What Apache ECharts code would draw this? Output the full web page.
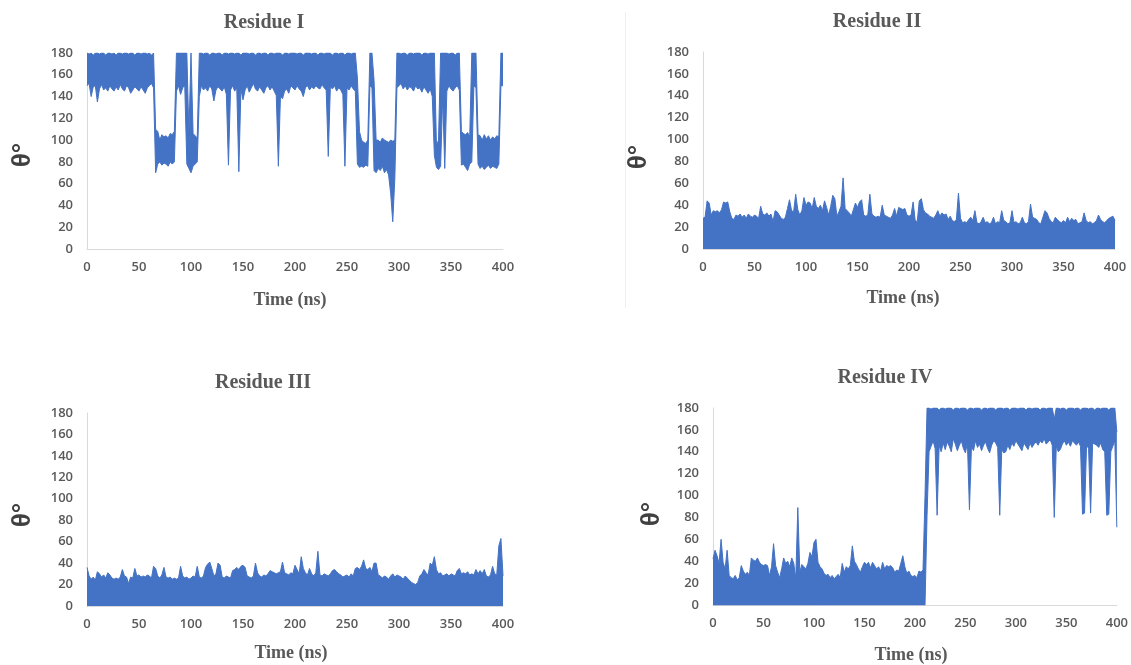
<!DOCTYPE html>
<html>
<head>
<meta charset="utf-8">
<script src="https://cdn.jsdelivr.net/npm/echarts@6.0.0/dist/echarts.min.js"></script>
<style>
html,body{margin:0;padding:0;background:#fff;}
#c{width:1131px;height:665px;}
</style>
</head>
<body>
<div id="c"></div>
<script>
// sample spacing of the traces (ns)
const timeStep = 2;
const xTicks = [0, 50, 100, 150, 200, 250, 300, 350, 400];
const yTicks = [0, 20, 40, 60, 80, 100, 120, 140, 160, 180];
const panelTitles = ['Residue I', 'Residue II', 'Residue III', 'Residue IV'];
const xName = 'Time (ns)';
const yName = 'θ°';

// Residue I : upper / lower envelope of the trace (t = 0..400 ns, every 2 ns)
const hi1 = [
180,179,180,178,180,180,179,180,180,178,
180,180,179,180,178,180,180,179,180,180,
179,180,180,178,180,180,179,180,180,179,
180,178,180,110,108,100,105,103,104,102,
106,105,108,180,180,180,180,180,180,105,
180,106,104,102,180,180,179,180,180,178,
180,180,179,180,180,178,180,180,179,180,
180,179,180,180,178,180,180,180,179,180,
180,178,180,180,179,180,180,178,180,180,
179,180,180,180,178,180,180,179,180,180,
180,179,180,180,178,180,180,180,179,180,
180,178,180,180,179,180,180,180,178,180,
180,179,180,180,178,180,180,179,180,180,
157,108,100,98,97,100,180,180,155,100,
100,98,102,100,99,98,100,99,100,180,
180,179,180,180,178,180,180,179,180,180,
180,178,180,180,179,180,180,180,95,100,
180,180,180,180,179,180,180,178,180,180,
108,106,105,107,103,180,180,180,105,104,
100,105,101,104,100,103,101,104,103,180,
180];
const lo1 = [
150,152,140,149,150,135,147,151,146,148,
145,150,147,145,149,146,151,147,145,150,
148,143,146,149,147,145,149,146,143,148,
150,152,148,70,78,80,77,79,78,76,
80,78,80,145,150,142,148,150,78,74,
70,76,78,80,140,150,146,148,145,150,
147,136,146,149,147,145,149,142,77,146,
150,145,148,71,147,137,146,150,144,148,
152,147,145,149,146,143,148,150,146,149,
145,141,76,140,138,145,147,143,150,148,
146,150,147,145,140,148,150,146,149,147,
150,148,147,151,148,146,85,149,147,150,
145,148,146,142,76,148,146,150,147,145,
78,75,76,75,77,76,150,148,72,70,
74,72,76,70,73,68,51,25,65,148,
150,152,147,150,146,149,148,145,150,147,
148,144,149,146,143,147,140,86,75,73,
76,140,74,145,150,147,145,148,150,146,
77,78,75,72,78,80,150,148,78,74,
76,73,75,77,74,76,75,74,78,150,
150];

// Residue II : upper envelope (trace fills down to ~0)
const hi2 = [
28,29,44,42,31,35,34,35,33,36,
43,42,43,34,28,27,31,30,32,29,
31,28,32,30,29,31,30,28,39,32,
31,33,30,32,25,35,34,31,28,27,
29,37,45,35,34,50,36,31,35,47,
40,43,42,37,47,39,37,40,35,44,
38,31,39,49,46,30,34,39,65,37,
35,33,30,36,42,38,43,45,31,30,
31,50,32,30,29,30,29,40,31,30,
29,28,31,37,30,38,37,36,37,31,
30,31,43,26,25,44,46,36,33,32,
30,29,28,31,35,30,33,31,32,27,
30,26,25,27,51,28,24,25,24,27,
29,26,35,24,23,25,29,24,25,23,
24,29,23,25,24,35,26,25,23,24,
35,24,25,23,24,29,24,23,25,41,
29,28,27,24,23,29,35,33,28,25,
24,29,27,25,24,26,24,29,25,28,
26,27,23,24,25,33,26,24,25,23,
24,26,31,27,25,24,26,28,29,30,
26];

// Residue III : upper envelope (trace fills down to ~0)
const hi3 = [
36,28,25,27,24,32,30,27,29,26,
31,29,26,25,26,25,27,34,28,27,
21,27,26,35,28,29,27,28,27,29,
28,26,37,35,28,26,29,36,27,26,
27,25,26,25,26,37,28,26,27,25,
26,28,27,37,27,26,28,36,39,41,
35,28,30,40,38,27,26,28,27,26,
33,34,36,34,37,38,36,28,27,26,
28,40,31,28,27,29,28,30,33,32,
31,30,31,32,41,31,30,29,31,30,
38,34,30,46,35,31,29,35,30,28,
31,51,29,28,30,29,28,30,33,34,
32,30,29,27,28,29,27,30,28,35,
36,34,37,43,35,34,36,32,40,40,
29,28,26,28,27,25,28,30,27,29,
28,27,25,28,26,24,22,21,20,22,
28,30,34,31,29,40,38,46,34,30,
31,28,29,30,28,30,29,28,33,35,
30,31,30,32,29,30,29,34,30,33,
30,34,28,27,29,37,30,29,56,63,
28];

// Residue IV : upper / lower envelope
const hi4 = [
42,50,45,38,60,39,33,50,27,25,
24,27,23,25,36,31,28,30,27,43,
41,40,43,39,37,36,37,36,27,35,
56,36,30,25,33,43,38,40,35,43,
38,24,89,30,37,35,33,38,48,44,
57,60,39,35,33,29,27,28,25,27,
24,26,28,25,38,30,35,33,36,54,
40,37,33,30,35,39,37,39,34,39,
36,33,35,31,39,33,36,35,36,34,
30,32,31,38,45,35,29,31,27,26,
27,25,31,30,32,100,180,180,179,180,
180,180,178,180,180,179,180,180,180,178,
180,180,179,180,180,180,178,180,180,179,
180,180,180,178,180,180,179,180,180,180,
178,180,180,180,179,180,180,178,180,180,
180,179,180,180,180,178,180,180,179,180,
180,180,178,180,180,179,180,180,180,170,
180,180,179,180,180,178,180,180,180,179,
180,180,178,180,180,180,179,180,180,178,
180,180,179,180,180,180,178,180,180,180,
158];
const lo4 = [
0,0,0,0,0,0,0,0,0,0,
0,0,0,0,0,0,0,0,0,0,
0,0,0,0,0,0,0,0,0,0,
0,0,0,0,0,0,0,0,0,0,
0,0,0,0,0,0,0,0,0,0,
0,0,0,0,0,0,0,0,0,0,
0,0,0,0,0,0,0,0,0,0,
0,0,0,0,0,0,0,0,0,0,
0,0,0,0,0,0,0,0,0,0,
0,0,0,0,0,0,0,0,0,0,
0,0,0,0,0,0,82,140,145,150,
143,82,146,140,148,142,149,145,140,152,
147,141,146,150,143,139,148,87,145,141,
150,144,147,141,146,149,143,139,146,150,
148,144,82,142,139,140,146,142,148,145,
150,147,144,141,148,145,142,148,144,147,
149,146,150,148,152,147,149,151,146,80,
145,140,142,147,150,146,149,145,150,148,
146,149,145,83,84,146,143,84,148,147,
146,144,148,142,140,82,83,140,145,150,
71];

const BLUE = '#4472C4';
const AXIS = '#d9d9d9';
const LABEL = '#595959';

// sample times of the traces, used as the category axis
const times = hi1.map((v, i) => String(i * timeStep));
function band(h, l) { return h.map((v, i) => v - l[i]); }

const grids = [
  {left: 87, top: 53, width: 416, height: 196},
  {left: 703, top: 52, width: 412, height: 197},
  {left: 87, top: 413, width: 416, height: 193},
  {left: 713, top: 408, width: 404, height: 197}
];

const labelStyle = {color: LABEL, fontFamily: 'Open Sans', fontSize: 13, fontWeight: 600};

const xAxes = grids.map((g, i) => ({
  type: 'category', gridIndex: i, data: times, boundaryGap: false,
  axisLine: {show: true, lineStyle: {color: AXIS, width: 1}},
  axisTick: {show: false}, splitLine: {show: false},
  axisLabel: Object.assign({margin: 12, showMinLabel: true, showMaxLabel: true,
    interval: (idx, val) => xTicks.indexOf(Number(val)) >= 0}, labelStyle)
}));
const yAxes = grids.map((g, i) => ({
  type: 'value', gridIndex: i,
  min: yTicks[0], max: yTicks[yTicks.length - 1], interval: yTicks[1] - yTicks[0],
  axisLine: {show: true, lineStyle: {color: AXIS, width: 1}},
  axisTick: {show: false}, splitLine: {show: false},
  axisLabel: Object.assign({margin: 14}, labelStyle)
}));

function lineSeries(idx, data, extra) {
  return Object.assign({
    type: 'line', xAxisIndex: idx, yAxisIndex: idx, data: data,
    showSymbol: false, symbol: 'none', silent: true, animation: false,
    lineStyle: {color: BLUE, width: 1}, itemStyle: {color: BLUE}
  }, extra || {});
}

const series = [
  lineSeries(0, lo1, {stack: 's1'}),
  lineSeries(0, band(hi1, lo1), {stack: 's1', areaStyle: {color: BLUE, opacity: 1}}),
  lineSeries(1, hi2, {areaStyle: {color: BLUE, opacity: 1}}),
  lineSeries(2, hi3, {areaStyle: {color: BLUE, opacity: 1}}),
  lineSeries(3, lo4, {stack: 's4'}),
  lineSeries(3, band(hi4, lo4), {stack: 's4', areaStyle: {color: BLUE, opacity: 1}})
];

const titlePos = [[264, 23], [877, 22], [263, 383], [885, 378]];
const xNamePos = [[290, 300], [903, 298], [291, 653], [911, 655]];
const yNamePos = [[23, 155], [639, 157], [23, 515], [652, 514]];

const graphics = [
  {type: 'line', shape: {x1: 625.5, y1: 12, x2: 625.5, y2: 308}, style: {stroke: '#efefef', lineWidth: 1}, silent: true}
];
panelTitles.forEach((t, i) => {
  graphics.push({type: 'text', x: titlePos[i][0], y: titlePos[i][1],
    style: {text: t, font: 'bold 20px "Liberation Serif"', fill: LABEL, textAlign: 'center', textVerticalAlign: 'middle', align: 'center', verticalAlign: 'middle'}});
  graphics.push({type: 'text', x: xNamePos[i][0], y: xNamePos[i][1],
    style: {text: xName, font: 'bold 18px "Liberation Serif"', fill: LABEL, textAlign: 'center', textVerticalAlign: 'middle', align: 'center', verticalAlign: 'middle'}});
  graphics.push({type: 'text', x: yNamePos[i][0], y: yNamePos[i][1], rotation: Math.PI / 2,
    style: {text: yName, font: 'bold 26px "Liberation Sans"', fill: '#404040', textAlign: 'center', textVerticalAlign: 'middle', align: 'center', verticalAlign: 'middle'}});
});

const chart = echarts.init(document.getElementById('c'), null, {renderer: 'canvas'});
chart.setOption({
  backgroundColor: '#ffffff',
  animation: false,
  grid: grids,
  xAxis: xAxes,
  yAxis: yAxes,
  series: series,
  graphic: graphics
});
</script>
</body>
</html>
